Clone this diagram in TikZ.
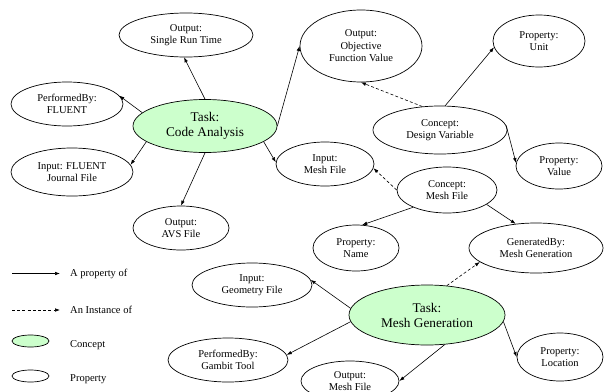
\documentclass[tikz,border=0pt]{standalone}
\usepackage{fontspec}
\setmainfont{Liberation Serif}
\usetikzlibrary{shapes.geometric,arrows.meta}
\definecolor{concgreen}{HTML}{CCFFCC}
\tikzset{
  prop/.style={ellipse, draw, line width=0.7pt, inner sep=0pt, align=center,
    font=\fontsize{10.5}{12.5}\selectfont},
  task/.style={ellipse, draw, line width=0.7pt, inner sep=0pt, align=center, fill=concgreen,
    font=\fontsize{13.3}{15}\selectfont},
  rel/.style={line width=0.6pt, -{Latex[length=5pt,width=3.6pt]}},
  inst/.style={rel, dashed, dash pattern=on 3pt off 2.2pt},
  legtext/.style={anchor=west, inner sep=0pt, font=\fontsize{10.5}{12.5}\selectfont},
}
\begin{document}
\begin{tikzpicture}[x=1pt,y=-1pt]
\useasboundingbox (0,0) rectangle (605,391);
% concepts / tasks
\node[task, minimum width=144pt, minimum height=53pt] (ca) at (205,126) {Task:\\Code Analysis};
\node[task, minimum width=156pt, minimum height=60pt] (mg) at (427,315) {Task:\\Mesh Generation};
% properties
\node[prop, minimum width=134pt, minimum height=44pt] (srt) at (186,35) {Output:\\Single Run Time};
\node[prop, minimum width=112pt, minimum height=44pt] (pbf) at (67,104) {PerformedBy:\\FLUENT};
\node[prop, minimum width=122pt, minimum height=48pt] (ifj) at (72,172) {Input: FLUENT\\Journal File};
\node[prop, minimum width=96pt, minimum height=44pt] (avs) at (181,228) {Output:\\AVS File};
\node[prop, minimum width=122pt, minimum height=72pt] (ofv) at (361,46) {Output:\\Objective\\Function Value};
\node[prop, minimum width=92pt, minimum height=52pt] (unit) at (539,41) {Property:\\Unit};
\node[prop, minimum width=134pt, minimum height=48pt] (dv) at (440,130) {Concept:\\Design Variable};
\node[prop, minimum width=98pt, minimum height=44pt] (imf) at (325,164) {Input:\\Mesh File};
\node[prop, minimum width=86pt, minimum height=46pt] (val) at (559,166) {Property:\\Value};
\node[prop, minimum width=100pt, minimum height=46pt] (cmf) at (447,190) {Concept:\\Mesh File};
\node[prop, minimum width=86pt, minimum height=46pt] (name) at (356,248) {Property:\\Name};
\node[prop, minimum width=134pt, minimum height=50pt] (gb) at (536,248) {GeneratedBy:\\Mesh Generation};
\node[prop, minimum width=86pt, minimum height=48pt] (loc) at (560,357) {Property:\\Location};
\node[prop, minimum width=98pt, minimum height=40pt] (omf) at (350,381) {Output:\\Mesh File};
\node[prop, minimum width=120pt, minimum height=44pt] (igf) at (252,285) {Input:\\Geometry File};
\node[prop, minimum width=120pt, minimum height=44pt] (pgt) at (228,360) {PerformedBy:\\Gambit Tool};
% connectors
\draw[rel] (ca.north) -- (srt.265);
\draw[rel] (ca.168) -- (pbf.9);
\draw[rel] (ca.195) -- (ifj.7);
\draw[rel] (ca.south) -- (avs.north);
\draw[rel] (ca.east) -- (ofv.west);
\draw[rel] (ca.-15) -- (imf.178);
\draw[inst] (dv.127) -- (ofv.south);
\draw[rel] (dv.78) -- (unit.188);
\draw[rel] (dv.4) -- (val.176);
\draw[inst] (cmf.west) -- (imf.-5);
\draw[rel] (cmf.207) -- (name.75);
\draw[rel] (cmf.-20) -- (gb.130);
\draw[inst] (mg.56) -- (gb.194);
\draw[rel] (mg.175) -- (igf.5);
\draw[rel] (mg.185) -- (pgt.5);
\draw[rel] (mg.301) -- (omf.east);
\draw[rel] (mg.-5) -- (loc.west);
% legend
\coordinate (l1a) at (12,273.5);
\coordinate (l1b) at (60,273.5);
\coordinate (l2a) at (12,310);
\coordinate (l2b) at (60,310);
\draw[rel] (l1a) -- (l1b);
\draw[inst] (l2a) -- (l2b);
\node[ellipse, draw, line width=0.7pt, fill=concgreen, minimum width=37pt, minimum height=12pt, inner sep=0pt] (lc) at (30.5,341) {};
\node[ellipse, draw, line width=0.7pt, minimum width=37pt, minimum height=12pt, inner sep=0pt] (lp) at (30.5,376) {};
\node[legtext] (t1) at (70,273.5) {A property of};
\node[legtext] (t2) at (70,310) {An Instance of};
\node[legtext] (t3) at (70,345) {Concept};
\node[legtext] (t4) at (70,379) {Property};
\end{tikzpicture}
\end{document}
